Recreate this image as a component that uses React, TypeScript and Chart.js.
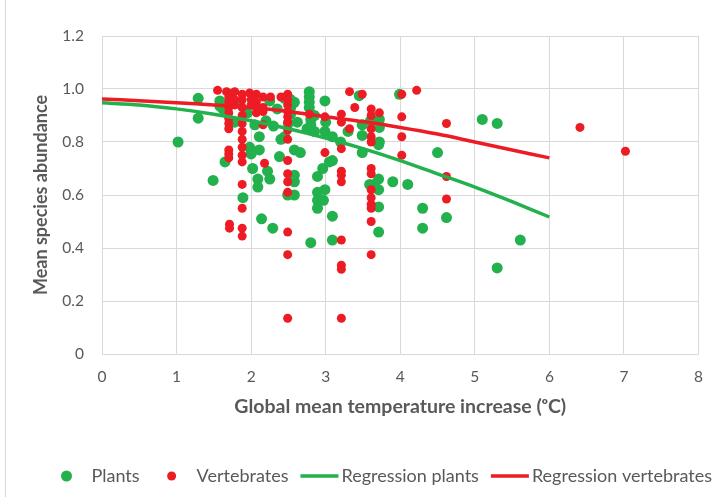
import React, { useEffect, useRef } from 'react';
import { Chart, registerables } from 'chart.js';

Chart.register(...registerables);

// ---------- data ----------
const plantsX = [
  1.02, 1.29, 1.29, 1.49, 1.58, 1.58, 1.62, 1.65, 1.72, 1.78, 1.89, 1.95, 1.98, 2.0, 2.02,
  2.09, 2.09, 2.11, 2.11, 2.14, 2.2, 2.22, 2.25, 2.29, 2.3, 2.38, 2.4, 2.45, 2.49, 2.5,
  2.53, 2.53, 2.53, 2.58, 2.58, 2.58, 2.58, 2.58, 2.62, 2.66, 2.75, 2.78, 2.78, 2.78, 2.78,
  2.8, 2.8, 2.85, 2.89, 2.89, 2.89, 2.89, 2.96, 2.97, 2.99, 2.99, 2.99, 3.05, 3.09, 3.09,
  3.09, 3.09, 3.2, 3.45, 3.49, 3.49, 3.49, 3.59, 3.65, 3.72, 3.72, 3.72, 3.71, 3.71, 3.71,
  3.71, 3.71, 3.9, 3.99, 4.1, 4.3, 4.3, 4.5, 4.62, 5.1, 5.3, 5.3, 5.61,
  2.25, 2.35, 2.45, 2.05, 1.85, 3.3, 3.6, 2.8, 2.85, 3.0,
];
const plantsY = [
  0.8, 0.965, 0.89, 0.655, 0.955, 0.935, 0.925, 0.725, 0.98, 0.875, 0.59, 0.91, 0.78, 0.755, 0.7,
  0.66, 0.63, 0.82, 0.77, 0.51, 0.88, 0.69, 0.66, 0.475, 0.86, 0.745, 0.81, 0.82, 0.6, 0.87,
  0.905, 0.93, 0.96, 0.95, 0.77, 0.675, 0.65, 0.6, 0.875, 0.76, 0.85, 0.99, 0.97, 0.95, 0.93,
  0.865, 0.42, 0.9, 0.67, 0.61, 0.58, 0.55, 0.7, 0.58, 0.955, 0.84, 0.62, 0.725, 0.73, 0.82,
  0.52, 0.43, 0.8, 0.975, 0.865, 0.825, 0.76, 0.64, 0.64, 0.855, 0.885, 0.8, 0.79, 0.66, 0.62,
  0.555, 0.46, 0.65, 0.98, 0.64, 0.55, 0.475, 0.76, 0.515, 0.885, 0.87, 0.325, 0.43,
  0.955, 0.925, 0.965, 0.865, 0.945, 0.84, 0.88, 0.885, 0.84, 0.875,
];

const vertX = [
  1.55, 1.67,
  1.7, 1.7, 1.7, 1.7, 1.7, 1.7, 1.7, 1.7, 1.7, 1.7, 1.71, 1.71,
  1.78, 1.78, 1.78,
  1.88, 1.88, 1.88, 1.88, 1.88, 1.88, 1.88, 1.88, 1.88, 1.88, 1.88, 1.88, 1.88, 1.88,
  1.98, 2.0, 2.0,
  2.07, 2.07, 2.07, 2.07,
  2.16, 2.16, 2.16, 2.16, 2.18,
  2.26, 2.4,
  2.49, 2.49, 2.49, 2.49, 2.49, 2.49, 2.49, 2.49, 2.49, 2.49, 2.49, 2.49, 2.49, 2.49, 2.49,
  2.78, 2.99, 2.99,
  3.21, 3.21, 3.21, 3.21, 3.21, 3.21, 3.21, 3.21, 3.21, 3.21,
  3.32, 3.32, 3.39, 3.49,
  3.61, 3.61, 3.61, 3.61, 3.61, 3.61, 3.61, 3.61, 3.61, 3.61, 3.61, 3.61, 3.61,
  3.72,
  4.02, 4.02, 4.02, 4.02,
  4.22,
  4.62, 4.62, 4.62,
  6.41, 7.02,
];
const vertY = [
  0.995, 0.99,
  0.97, 0.95, 0.93, 0.91, 0.89, 0.87, 0.85, 0.77, 0.755, 0.74, 0.49, 0.475,
  0.99, 0.96, 0.94,
  0.98, 0.96, 0.93, 0.9, 0.87, 0.84, 0.81, 0.78, 0.75, 0.725, 0.64, 0.55, 0.475, 0.445,
  0.985, 0.96, 0.94,
  0.98, 0.95, 0.93, 0.91,
  0.97, 0.93, 0.915, 0.865, 0.72,
  0.97, 0.97,
  0.98, 0.96, 0.94, 0.915, 0.895, 0.875, 0.845, 0.81, 0.73, 0.68, 0.65, 0.61, 0.46, 0.375, 0.135,
  0.905, 0.895, 0.76,
  0.905, 0.875, 0.775, 0.69, 0.675, 0.65, 0.43, 0.335, 0.32, 0.135,
  0.99, 0.85, 0.93, 0.98,
  0.925, 0.9, 0.85, 0.82, 0.8, 0.7, 0.68, 0.62, 0.59, 0.565, 0.55, 0.5, 0.375,
  0.91,
  0.98, 0.895, 0.82, 0.75,
  0.995,
  0.87, 0.67, 0.585,
  0.855, 0.765,
];

const regX = [0, 0.5, 1, 1.5, 2, 2.5, 3, 3.5, 4, 4.5, 5, 5.5, 6];
const regPlantsY = [0.948, 0.94, 0.925, 0.905, 0.88, 0.85, 0.815, 0.775, 0.73, 0.68, 0.63, 0.575, 0.517];
const regVertY = [0.962, 0.956, 0.948, 0.94, 0.93, 0.915, 0.895, 0.877, 0.855, 0.83, 0.8, 0.77, 0.74];

const xTicks = [0, 1, 2, 3, 4, 5, 6, 7, 8];
const yTicks = [0, 0.2, 0.4, 0.6, 0.8, 1, 1.2];

const seriesLabels = ['Plants', 'Vertebrates', 'Regression plants', 'Regression vertebrates'];
const xTitle = 'Global mean temperature increase (\u1D52C)';
const yTitle = 'Mean species abundance';

// ---------- styles ----------
const GREEN = '#22b14c';
const RED = '#ed1c24';
const TEXT = '#595959';
const GRID = '#d9d9d9';
const FONT = 'Lato, "Open Sans", "DejaVu Sans", sans-serif';

const zip = (xs: number[], ys: number[]) => xs.map((x, i) => ({ x, y: ys[i] }));

const legendPlugin = {
  id: 'excelLegend',
  afterDraw(chart: any) {
    const ctx = chart.ctx as CanvasRenderingContext2D;
    ctx.save();
    ctx.font = `18px ${FONT}`;
    ctx.textBaseline = 'middle';
    let x = 46.5;
    const y = 476;
    chart.data.datasets.forEach((ds: any) => {
      if (ds.showLine) {
        ctx.strokeStyle = ds.borderColor;
        ctx.lineWidth = 3.5;
        ctx.beginPath();
        ctx.moveTo(x, y);
        ctx.lineTo(x + 38, y);
        ctx.stroke();
        x += 41;
      } else {
        ctx.fillStyle = ds.backgroundColor;
        ctx.beginPath();
        ctx.arc(x + 20, y, ds.pointRadius, 0, Math.PI * 2);
        ctx.fill();
        x += 45;
      }
      ctx.fillStyle = TEXT;
      ctx.fillText(ds.label, x, y);
      x += ctx.measureText(ds.label).width + 12;
    });
    ctx.restore();
  },
};

export default function App() {
  const ref = useRef<HTMLCanvasElement | null>(null);

  useEffect(() => {
    if (!ref.current) return;
    const chart = new Chart(ref.current, {
      type: 'scatter',
      data: {
        datasets: [
          {
            label: seriesLabels[0],
            data: zip(plantsX, plantsY),
            backgroundColor: GREEN,
            borderColor: GREEN,
            borderWidth: 0,
            pointRadius: 5.5,
            order: 4,
          },
          {
            label: seriesLabels[1],
            data: zip(vertX, vertY),
            backgroundColor: RED,
            borderColor: RED,
            borderWidth: 0,
            pointRadius: 4.5,
            order: 3,
          },
          {
            label: seriesLabels[2],
            data: zip(regX, regPlantsY),
            showLine: true,
            borderColor: GREEN,
            backgroundColor: GREEN,
            borderWidth: 3.5,
            pointRadius: 0,
            tension: 0.3,
            order: 2,
          },
          {
            label: seriesLabels[3],
            data: zip(regX, regVertY),
            showLine: true,
            borderColor: RED,
            backgroundColor: RED,
            borderWidth: 3.5,
            pointRadius: 0,
            tension: 0.3,
            order: 1,
          },
        ],
      },
      options: {
        responsive: false,
        animation: false,
        devicePixelRatio: 1,
        layout: { padding: { left: 20, right: 18, top: 36, bottom: 79 } },
        plugins: {
          legend: { display: false },
          tooltip: { enabled: false },
        },
        scales: {
          x: {
            type: 'linear',
            min: xTicks[0],
            max: xTicks[xTicks.length - 1],
            afterBuildTicks: (s: any) => { s.ticks = xTicks.map((v) => ({ value: v })); },
            afterFit: (s: any) => { s.height = 64; },
            ticks: { color: TEXT, font: { family: FONT, size: 15.5 }, padding: 14 },
            grid: { color: GRID, lineWidth: 1, drawTicks: false },
            border: { display: false },
            title: {
              display: true,
              text: xTitle,
              color: TEXT,
              font: { family: FONT, size: 19.5, weight: 'bold' },
              padding: { top: 10, bottom: 0 },
            },
          },
          y: {
            type: 'linear',
            min: yTicks[0],
            max: yTicks[yTicks.length - 1],
            afterBuildTicks: (s: any) => { s.ticks = yTicks.map((v) => ({ value: v })); },
            afterFit: (s: any) => { s.width = 82; },
            ticks: { color: TEXT, font: { family: FONT, size: 15.5 }, padding: 18 },
            grid: { color: GRID, lineWidth: 1, drawTicks: false },
            border: { display: false },
            title: {
              display: true,
              text: yTitle,
              color: TEXT,
              font: { family: FONT, size: 18, weight: 'bold' },
              padding: { top: 10, bottom: 4 },
            },
          },
        },
      },
      plugins: [legendPlugin],
    } as any);
    return () => chart.destroy();
  }, []);

  return (
    <div style={{ position: 'fixed', left: 0, top: 0, width: 717, height: 497, background: '#fff' }}>
      <div style={{ position: 'absolute', left: 5, top: 0, width: 1, height: 497, background: GRID }} />
      <canvas ref={ref} width={717} height={497} style={{ display: 'block', position: 'absolute', left: 0, top: 0 }} />
    </div>
  );
}
